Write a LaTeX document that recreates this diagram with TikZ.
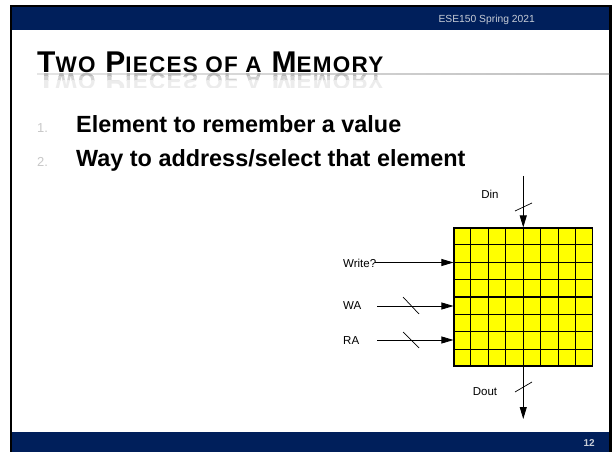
\documentclass[tikz,border=0pt]{standalone}
\usepackage{fontspec}
\setmainfont{Liberation Sans}
\newfontfamily\ttlfont[LetterSpace=5.5]{Liberation Sans}
\usetikzlibrary{arrows.meta,calc}
\definecolor{navy}{RGB}{0,31,91}
\definecolor{cellyellow}{RGB}{255,255,0}
\definecolor{numgray}{RGB}{200,200,200}
\definecolor{bargray}{RGB}{200,205,215}
\newcommand{\ttlBig}[1]{{\fontsize{30bp}{33bp}\selectfont #1}}
\newcommand{\ttlSmall}[1]{{\fontsize{22.5bp}{25bp}\selectfont #1}}
\newcommand{\titletext}{\ttlfont\bfseries\ttlBig{T}\ttlSmall{WO}\ttlBig{ P}\ttlSmall{IECES OF A}\ttlBig{ M}\ttlSmall{EMORY}}
\begin{document}
\begin{tikzpicture}[x=1bp,y=-1bp,
  lbl/.style={font=\fontsize{11.5bp}{13bp}\selectfont, inner sep=0pt},
  bullettext/.style={font=\fontsize{23.4bp}{28bp}\selectfont\bfseries, inner sep=0pt, anchor=base west},
  bulletnum/.style={font=\fontsize{13bp}{15bp}\selectfont, text=numgray, inner sep=0pt, anchor=base west},
  sig/.style={line width=0.8bp, -{Triangle[length=12bp,width=7bp]}},
  slashmark/.style={line width=0.7bp},
  gridline/.style={line width=1.1bp},
  memarray/.style={draw, line width=1.1bp, fill=cellyellow, minimum width=138.5bp, minimum height=138bp, inner sep=0pt}]
\useasboundingbox (0,0) rectangle (612,452);
\fill[white] (0,0) rectangle (612,452);
% slide frame
\fill[black] (10,5) rectangle (611.5,6.7);
\fill[black] (10,5) rectangle (12,452);
\fill[black] (609,5) rectangle (611.5,452);
\fill[navy] (12,6.7) rectangle (609,30);
\fill[navy] (12,431.7) rectangle (609,452);
\node[font=\fontsize{10.3bp}{12bp}\selectfont, text=bargray, anchor=base east, inner sep=0pt] (hdr) at (535,22.5) {ESE150 Spring 2021};
\node[font=\fontsize{10bp}{12bp}\selectfont\bfseries, text=bargray, anchor=base east, inner sep=0pt] (pg) at (595,446) {12};
% title
\shade[left color=gray!20, right color=gray!50] (37,73.6) rectangle (609,74.6);
\begin{scope}
\clip (30,73.5) rectangle (420,77);
\node[anchor=base west, inner sep=0pt, yscale=-1, transform shape, text=gray!55] (refl1) at (37,74) {\titletext};
\end{scope}
\begin{scope}
\clip (30,77) rectangle (420,81);
\node[anchor=base west, inner sep=0pt, yscale=-1, transform shape, text=gray!35] (refl2) at (37,74) {\titletext};
\end{scope}
\begin{scope}
\clip (30,81) rectangle (420,88);
\node[anchor=base west, inner sep=0pt, yscale=-1, transform shape, text=gray!15] (refl3) at (37,74) {\titletext};
\end{scope}
\node[anchor=base west, inner sep=0pt] (title) at (37,73) {\titletext};
% bullets
\node[bulletnum] (n1) at (37,133) {1.};
\node[bullettext] (b1) at (76,133) {Element to remember a value};
\node[bulletnum] (n2) at (37,167) {2.};
\node[bullettext] (b2) at (76,167) {Way to address/select that element};
% memory array
\node[memarray] (mem) at (523.25,297) {};
\foreach \i in {1,...,7}{
  \draw[gridline] ($(mem.north west)!\i/8!(mem.north east)$) -- ($(mem.south west)!\i/8!(mem.south east)$);
  \draw[gridline] ($(mem.north west)!\i/8!(mem.south west)$) -- ($(mem.north east)!\i/8!(mem.south east)$);
}
% Din
\coordinate (dintop) at (523.25,176);
\draw[sig] (dintop) -- (mem.north);
\draw[slashmark] (515,211) -- (532,203);
\node[lbl] (din) at (490,194) {Din};
% Dout
\coordinate (doutend) at (523.25,419);
\draw[sig] (mem.south) -- (doutend);
\draw[slashmark] (515,392) -- (532,382);
\node[lbl] (dout) at (485,392) {Dout};
% Write?
\node[lbl, anchor=west] (wr) at (343,263) {Write?};
\coordinate (wrs) at (375,262.5);
\draw[sig] (wrs) -- (mem.west |- wrs);
% WA
\node[lbl, anchor=west] (wa) at (343,306) {WA};
\coordinate (was) at (377,306);
\draw[sig] (was) -- (mem.west |- was);
\draw[slashmark] (403,297) -- (419,314);
% RA
\node[lbl, anchor=west] (ra) at (343,340.5) {RA};
\coordinate (ras) at (377,340);
\draw[sig] (ras) -- (mem.west |- ras);
\draw[slashmark] (403,332) -- (419,348);
\end{tikzpicture}
\end{document}
